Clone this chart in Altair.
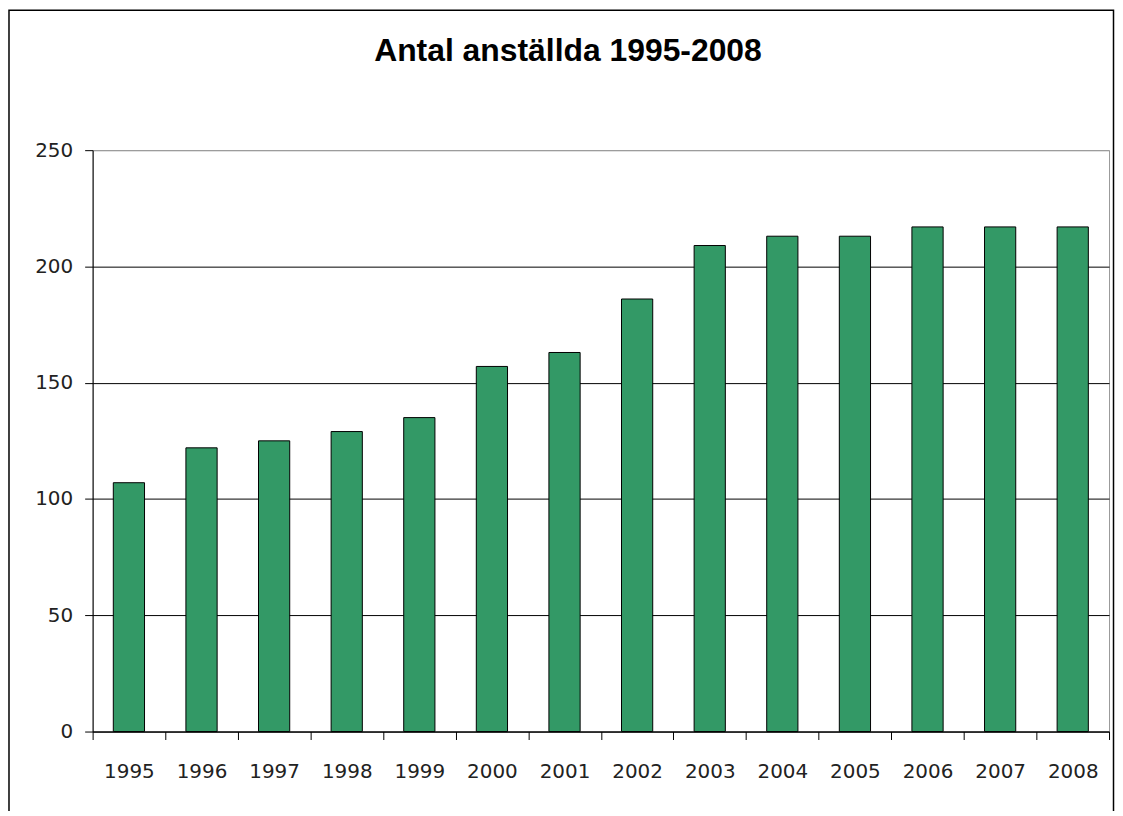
import altair as alt
import pandas as pd

years = ["1995", "1996", "1997", "1998", "1999", "2000", "2001",
         "2002", "2003", "2004", "2005", "2006", "2007", "2008"]
employees = [107, 122, 125, 129, 135, 157, 163, 186, 209, 213, 213, 217, 217, 217]
y_ticks = [0, 50, 100, 150, 200, 250]
title_text = "Antal anställda 1995-2008"

df = pd.DataFrame({"year": years, "antal": employees})

W, H = 1021, 584
label_font = "DejaVu Sans"

bars = alt.Chart(df).mark_bar(
    color="#339966", stroke="black", strokeWidth=1,
    width=alt.RelativeBandSize(0.43)
).encode(
    x=alt.X("year:O", sort=years,
            scale=alt.Scale(paddingInner=0, paddingOuter=0),
            axis=alt.Axis(title=None, labelAngle=0, tickBand="extent",
                          tickSize=8, tickColor="black", domainColor="black",
                          labelFont=label_font, labelFontSize=20,
                          labelColor="#222222", labelPadding=22, grid=False)),
    y=alt.Y("antal:Q",
            scale=alt.Scale(domain=[0, 250], nice=False, zero=True),
            axis=alt.Axis(title=None, values=y_ticks, tickSize=8,
                          tickColor="black", domainColor="black",
                          labelFont=label_font, labelFontSize=20,
                          labelColor="#222222", labelPadding=12,
                          grid=True,
                          gridColor={"condition": {"test": "datum.value == 250", "value": "#999999"},
                                     "value": "black"},
                          gridOpacity=1, gridWidth=1))
)

frame = alt.Chart(pd.DataFrame({"f": [0]})).mark_rect(
    fill="transparent", stroke="black", strokeWidth=1.5
).encode(
    x=alt.value(-84), x2=alt.value(W + 4.5),
    y=alt.value(-140.5), y2=alt.value(H + 120)
)

chart = alt.layer(frame, bars).properties(
    width=W, height=H,
    title=alt.TitleParams(text=title_text, font="Liberation Sans", fontSize=32,
                          fontWeight="bold", color="black", anchor="middle",
                          dx=-33, offset=-84, baseline="alphabetic"),
    autosize=alt.AutoSizeParams(type="none"),
    padding={"left": 85, "top": 141, "right": 6, "bottom": 78},
    background="white"
).configure_view(stroke="#999999", strokeWidth=1)

chart.save("out.html", embed_options={"renderer": "svg", "actions": False})
